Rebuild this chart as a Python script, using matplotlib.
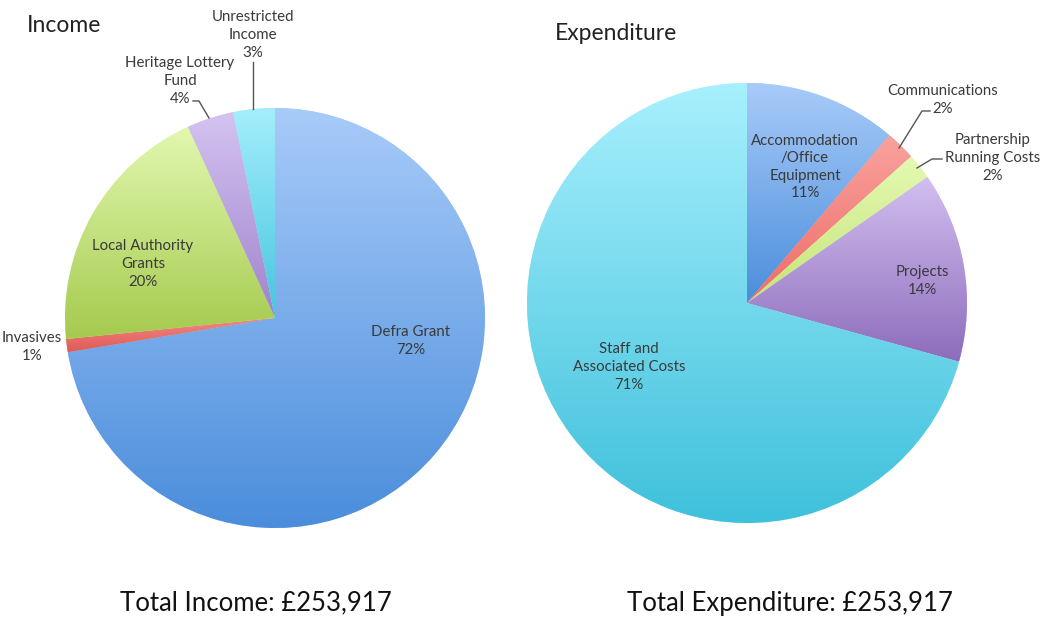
import numpy as np
import matplotlib.pyplot as plt
from matplotlib.colors import LinearSegmentedColormap

plt.rcParams['font.family'] = ['Lato', 'DejaVu Sans']

W, H = 1043, 618

# data
income_names = ['Defra Grant', 'Invasives', 'Local Authority\nGrants',
                'Heritage Lottery\nFund', 'Unrestricted\nIncome']
income_values = [72.4, 1.0, 19.8, 3.6, 3.2]
spend_names = ['Accommodation\n/Office\nEquipment', 'Communications',
               'Partnership\nRunning Costs', 'Projects', 'Staff and\nAssociated Costs']
spend_values = [11.2, 2.2, 1.9, 14.0, 70.7]
total_income = 253917
total_spend = 253917

# (top colour, bottom colour) for each slice
income_colors = [('#a8cbf9', '#4a8ddb'), ('#f08a86', '#e05a55'), ('#e2f8b0', '#a5ca4e'),
                 ('#d4c3f1', '#a083cb'), ('#a4eefc', '#46c5df')]
spend_colors = [('#a8cbf9', '#4b8edb'), ('#f9a29d', '#ee6c68'), ('#e4f9b2', '#c6e47a'),
                ('#d2bff0', '#8d6cbb'), ('#a8f0fd', '#3ec0db')]

# layout in pixels from top-left
income_pie = (275, 318, 210)
spend_pie = (747, 303, 220)
income_text = [(411, 341), (32, 347), (143, 264), (180, 81), (253, 35)]
spend_text = [(805, 167), (943, 100), (993, 158), (922, 281), (629, 367)]
income_leaders = [None, None, None,
                  [(193, 101), (199, 101), (209, 118)],
                  [(253, 62), (253, 109)]]
spend_leaders = [None,
                 [(930, 111), (922, 111), (899, 148)],
                 [(942, 159), (932, 159), (917, 168)],
                 None, None]


def fy(y):
    return H - y


fig = plt.figure(figsize=(W / 100, H / 100), dpi=100)
ax = fig.add_axes([0, 0, 1, 1])


def draw_pie(pie, values, colors, names, text_pos, leaders):
    cx, cy, r = pie
    wedges, _ = ax.pie(values, center=(cx, fy(cy)), radius=r, startangle=90,
                       counterclock=False, colors=[c[0] for c in colors],
                       wedgeprops=dict(linewidth=0), frame=True)
    grad = np.linspace(0, 1, 256).reshape(-1, 1)
    for w, (c1, c2) in zip(wedges, colors):
        v = w.get_path().vertices
        cmap = LinearSegmentedColormap.from_list('g', [c2, c1])
        im = ax.imshow(grad, cmap=cmap, origin='lower', aspect='auto', zorder=2,
                       extent=[v[:, 0].min(), v[:, 0].max(), v[:, 1].min(), v[:, 1].max()])
        im.set_clip_path(w)
    for name, val, (tx, ty) in zip(names, values, text_pos):
        ax.text(tx, fy(ty), '%s\n%d%%' % (name, round(val)), ha='center', va='center',
                fontsize=10.8, color='#3a3a3a', linespacing=1.32, zorder=5)
    for pts in leaders:
        if pts:
            ax.plot([p[0] for p in pts], [fy(p[1]) for p in pts], color='#555555',
                    lw=1, zorder=4)


draw_pie(income_pie, income_values, income_colors, income_names, income_text, income_leaders)
draw_pie(spend_pie, spend_values, spend_colors, spend_names, spend_text, spend_leaders)

ax.text(27, fy(25), 'Income', fontsize=16.5, color='#222222', va='center', ha='left')
ax.text(555, fy(33), 'Expenditure', fontsize=16.5, color='#222222', va='center', ha='left')
ax.text(256, fy(603), 'Total Income: £{:,}'.format(total_income), fontsize=18.5,
        ha='center', va='center', color='#111111')
ax.text(790, fy(603), 'Total Expenditure: £{:,}'.format(total_spend), fontsize=18.5,
        ha='center', va='center', color='#111111')

ax.set_xlim(0, W)
ax.set_ylim(0, H)
ax.set_aspect('auto')
ax.axis('off')

fig.savefig('out.png', dpi=100)
